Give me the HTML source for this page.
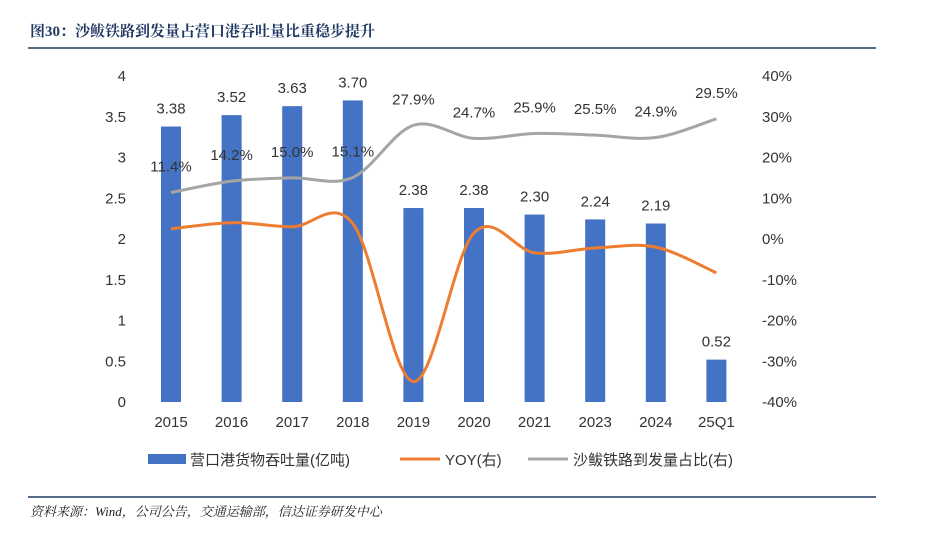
<!DOCTYPE html>
<html><head><meta charset="utf-8"><style>
body{margin:0;background:#fff;width:935px;height:541px;overflow:hidden;font-family:"Liberation Sans","Noto Sans CJK SC",sans-serif}
</style></head><body>
<svg id="c" width="935" height="541" xmlns="http://www.w3.org/2000/svg">
<text x="30" y="36" font-size="15" font-weight="bold" fill="#1F3864" font-family="'Liberation Serif','Noto Serif CJK SC',serif">图30：沙鲅铁路到发量占营口港吞吐量比重稳步提升</text>
<line x1="28" y1="48" x2="876" y2="48" stroke="#1F3864" stroke-width="1.5"/>
<line x1="28" y1="497" x2="876" y2="497" stroke="#1F3864" stroke-width="1.5"/>
<text x="30" y="516" font-size="13" font-style="italic" fill="#222" font-family="'Liberation Serif','Noto Serif CJK SC',serif">资料来源：Wind，公司公告，交通运输部，信达证券研发中心</text>
<g id="plot"></g>
<g>
<rect x="148" y="454" width="38" height="10" fill="#4472C4"/>
<text x="190" y="465" font-size="15" fill="#333">营口港货物吞吐量(亿吨)</text>
<line x1="400" y1="459" x2="440" y2="459" stroke="#ED7D31" stroke-width="3"/>
<text x="445" y="465" font-size="15" fill="#333">YOY(右)</text>
<line x1="528" y1="459" x2="568" y2="459" stroke="#A5A5A5" stroke-width="3"/>
<text x="573" y="465" font-size="15" fill="#333">沙鲅铁路到发量占比(右)</text>
</g>
</svg>
<script>
const categories=["2015","2016","2017","2018","2019","2020","2021","2023","2024","25Q1"];
const volume=[3.38,3.52,3.63,3.70,2.38,2.38,2.30,2.24,2.19,0.52];
const yoy=[2.5,4.0,3.0,3.8,-35,1.5,-3.4,-2.2,-2.0,-8.3];
const share=[11.4,14.2,15.0,15.1,27.9,24.7,25.9,25.5,24.9,29.5];
const leftTicks=[0,0.5,1,1.5,2,2.5,3,3.5,4];
const rightTicks=[-40,-30,-20,-10,0,10,20,30,40];
const NS="http://www.w3.org/2000/svg";
const g=document.getElementById('plot');
const x=i=>171+i*60.6;
const yL=v=>402-v/4*326;
const yR=v=>239-v/80*326;
function mk(t,a,txt){const e=document.createElementNS(NS,t);for(const k in a)e.setAttribute(k,a[k]);if(txt!=null)e.textContent=txt;g.appendChild(e);return e;}
leftTicks.forEach(v=>{const e=mk('text',{x:126,y:yL(v)+5,'font-size':15,fill:'#333','text-anchor':'end'},String(v));

});
rightTicks.forEach(v=>{const e=mk('text',{x:762,y:yR(v)+5,'font-size':15,fill:'#333'},v+'%');

});
categories.forEach((c,i)=>{const e=mk('text',{x:x(i),y:427,'font-size':15,fill:'#333','text-anchor':'middle'},c);

});
volume.forEach((v,i)=>{const r=mk('rect',{x:x(i)-10,y:yL(v),width:20,height:402-yL(v),fill:'#4472C4'});


const t=mk('text',{x:x(i),y:yL(v)-13,'font-size':15,fill:'#333','text-anchor':'middle'},v.toFixed(2));

});
function smooth(pts){let d='M'+pts[0][0]+','+pts[0][1];for(let i=0;i<pts.length-1;i++){const p0=pts[i-1]||pts[i],p1=pts[i],p2=pts[i+1],p3=pts[i+2]||p2;const t=1/6;d+=` C${p1[0]+(p2[0]-p0[0])*t},${p1[1]+(p2[1]-p0[1])*t} ${p2[0]-(p3[0]-p1[0])*t},${p2[1]-(p3[1]-p1[1])*t} ${p2[0]},${p2[1]}`;}return d;}
const l1=mk('path',{d:smooth(yoy.map((v,i)=>[x(i),yR(v)])),fill:'none',stroke:'#ED7D31','stroke-width':3});


const l2=mk('path',{d:smooth(share.map((v,i)=>[x(i),yR(v)])),fill:'none',stroke:'#A5A5A5','stroke-width':3});


share.forEach((v,i)=>{const t=mk('text',{x:x(i),y:yR(v)-21,'font-size':15,fill:'#333','text-anchor':'middle'},v.toFixed(1)+'%');

});
</script>
</body></html>
